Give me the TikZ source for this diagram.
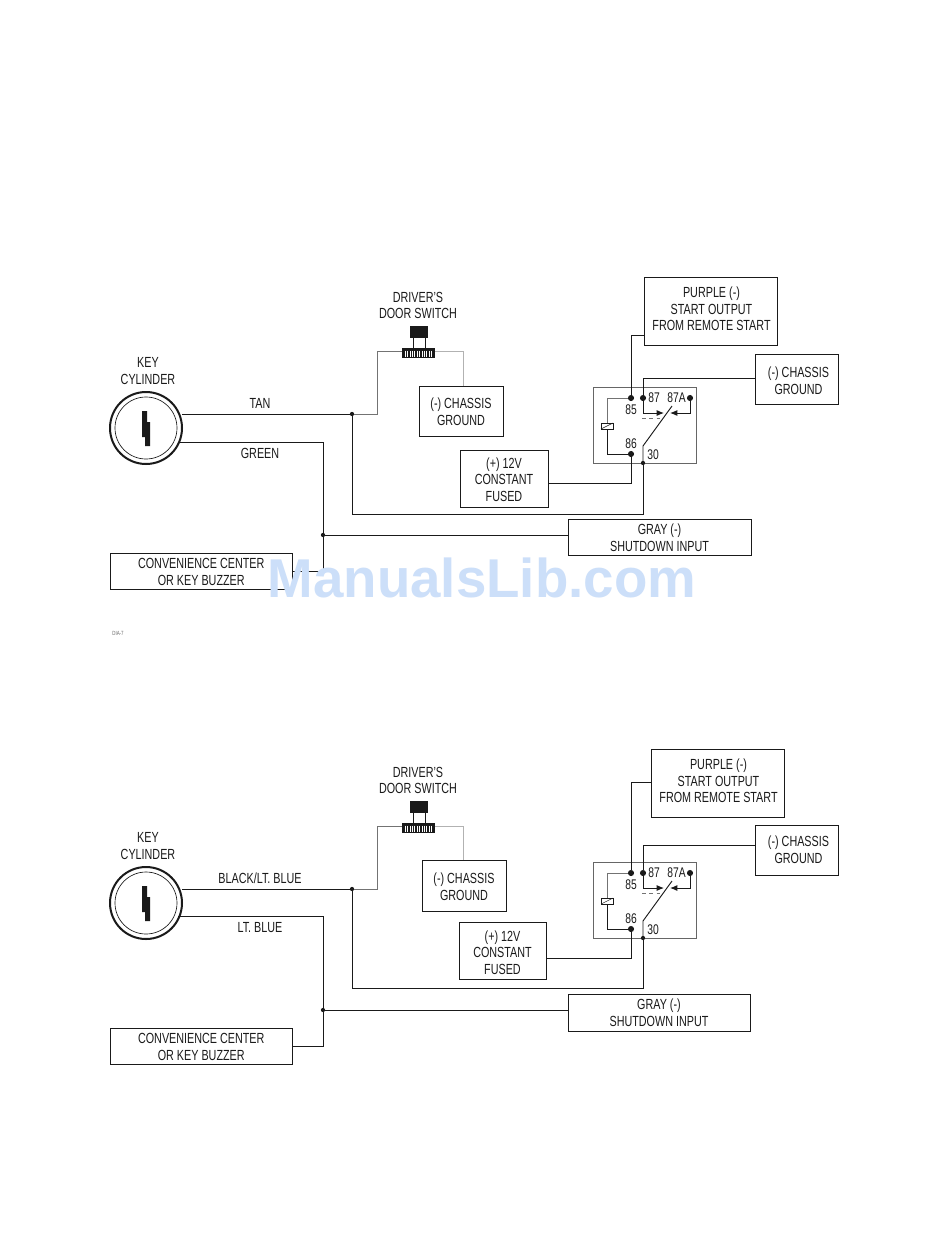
\documentclass[tikz,border=0pt]{standalone}
\usepackage{fontspec}
\usetikzlibrary{arrows.meta}
\setmainfont[FakeStretch=0.735]{Liberation Sans}
\newfontfamily\wmfont{Liberation Sans}
\definecolor{ink}{HTML}{1A1A1A}
\definecolor{wmblue}{HTML}{CCDFF9}
\tikzset{
  x=0.75pt,y=-0.75pt,
  every node/.style={inner sep=0pt,outer sep=0pt,text=ink},
  wire/.style={draw=ink,line width=0.7pt},
  softwire/.style={draw=black!55,line width=0.6pt},
  palewire/.style={draw=black!30,line width=0.7pt},
  lab/.style={font=\fontsize{11}{12.5}\selectfont,align=center},
  nlab/.style={font=\fontsize{10.5}{12}\selectfont},
  frame/.style={draw=ink,line width=0.7pt,anchor=north west},
  dot/.style={circle,fill=ink,minimum size=#1,draw=none},
  dot/.default=3.2pt,
  relaydot/.style={dot=4.6pt},
  tip/.style={-{Latex[length=5.5pt,width=4.5pt]}},
}
% name, x, y, w, h, text dx, text dy, text
\newcommand{\pbox}[8]{%
  \node[frame,minimum width=#4*0.75pt,minimum height=#5*0.75pt] (#1) at (#2,#3) {};
  \node[lab] (#1-text) at ([shift={(#6,#7)}]#1.center) {#8};
}
\newcommand{\commonparts}[2]{%
  % key cylinder
  \node[circle,draw=ink,line width=1.5pt,minimum size=54pt] (keyouter) at (146,428) {};
  \node[circle,draw=ink,line width=0.5pt,minimum size=46.5pt] (keyinner) at (146,428) {};
  \fill[ink] (142,411) -- (147,411) -- (147,422) -- (150,422) -- (150,446) -- (145,446) -- (145,437) -- (142,437) -- cycle;
  \node[lab] (keylab) at (148,371) {KEY\\CYLINDER};
  % door switch
  \node[lab] (swlab) at (418,305.5) {DRIVER'S\\DOOR SWITCH};
  \node[fill=ink,minimum width=13.5pt,minimum height=9pt] (swhead) at (419,332) {};
  \node[fill=ink,minimum width=24.75pt,minimum height=7.5pt] (swbody) at (418.5,353) {};
  \foreach \i in {0,...,11}{\draw[white,line width=0.45pt] (405+\i*2.4,350.5) -- (405+\i*2.4,356.5);}
  \draw[ink,line width=0.7pt] (413,338) -- (413,348) (425,338) -- (425,348);
  % relay
  \node[draw=black!60,line width=0.6pt,minimum width=77.25pt,minimum height=57pt,anchor=north west] (relay) at (593,387) {};
  \node[relaydot] (d85) at (631,398) {};
  \node[relaydot] (d87) at (643,398) {};
  \node[relaydot] (d87a) at (690,398) {};
  \node[relaydot] (d86) at (631,454) {};
  \node[dot] (d30) at (643,463) {};
  \node[nlab] (l85) at (631,410) {85};
  \node[nlab] (l87) at (654,398) {87};
  \node[nlab] (l87a) at (676.5,398) {87A};
  \node[nlab] (l86) at (631,444) {86};
  \node[nlab] (l30) at (653,455) {30};
  \node[draw=ink,line width=0.5pt,minimum width=9pt,minimum height=4.5pt] (coil) at (607,426) {};
  \draw[ink,line width=0.35pt] (coil.south west) -- (coil.north east);
  \draw[softwire] (d85) -| (coil.north);
  \draw[wire] (coil.south) |- (d86);
  \coordinate (armlow) at (643,446);
  \coordinate (armtop) at (672,406);
  \draw[wire] (d30) -- (armlow) -- (armtop);
  \coordinate (no) at (664,413);
  \coordinate (nc) at (670,413);
  \draw[wire,tip] (d87) |- (no);
  \draw[wire,tip] (d87a) |- (nc);
  \coordinate (dasha) at (642,418);
  \coordinate (dashb) at (660,418);
  \draw[softwire,dash pattern=on 3pt off 2.5pt] (dasha) -- (dashb);
  % wire labels
  \node[lab] (upperlab) at #1;
  \node[lab] (lowerlab) at #2;
}
\begin{document}
\begin{tikzpicture}
\useasboundingbox (0,0) rectangle (950,1260);
\fill[white] (0,0) rectangle (950,1260);

% ---------- upper diagram
\begin{scope}[name prefix=a-]
\commonparts{(260,403) {TAN}}{(260,453) {GREEN}}
\pbox{chassisA}{419}{386}{84}{50}{0}{1}{(-) CHASSIS\\GROUND}
\pbox{purple}{644}{277}{133}{68}{1}{-2}{PURPLE (-)\\START OUTPUT\\FROM REMOTE START}
\pbox{chassisB}{755}{354}{83}{50}{2}{2}{(-) CHASSIS\\GROUND}
\pbox{fused}{460}{450}{88}{57}{0}{1}{(+) 12V\\CONSTANT\\FUSED}
\pbox{shut}{568}{519}{183}{36}{0}{1}{GRAY (-)\\SHUTDOWN INPUT}
\pbox{conv}{110}{553}{182.5}{36}{0}{1}{CONVENIENCE CENTER\\OR KEY BUZZER}
\node[dot] (j1) at (352,414) {};
\node[dot] (j2) at (323,535) {};
\coordinate (keyT) at (182,414);
\coordinate (keyG) at (178,442);
\coordinate (swL) at (377,351);
\coordinate (swR) at (463,351);
\coordinate (greenC) at (323,442);
\coordinate (greenD) at (323,571);
\coordinate (base) at (352,514);
\coordinate (pup) at (631,335);
\coordinate (cup) at (643,378);
\coordinate (fusedY) at (548,483);
\draw[wire] (keyT) -- (j1);
\draw[softwire] (j1) -| (swL) -- (a-swbody.west |- swL);
\draw[palewire] (a-swbody.east |- swR) -- (swR) -- (swR |- chassisA.north);
\draw[wire] (j1) -- (base) -| (d30);
\draw[wire] (keyG) -- (greenC) -- (greenD) -- (conv.east |- greenD);
\draw[wire] (j2) -- (shut.west |- j2);
\draw[wire] (d85) -- (pup) -- (purple.west |- pup);
\draw[wire] (d87) -- (cup) -- (chassisB.west |- cup);
\draw[wire] (d86) |- (fused.east |- fusedY);
\end{scope}

% ---------- lower diagram
\begin{scope}[shift={(0,475)},name prefix=b-]
\commonparts{(260,403) {BLACK/LT. BLUE}}{(260,453) {LT. BLUE}}
\pbox{chassisA}{422}{385}{84}{51}{0}{1}{(-) CHASSIS\\GROUND}
\pbox{purple}{651}{274}{133}{68}{1}{-2}{PURPLE (-)\\START OUTPUT\\FROM REMOTE START}
\pbox{chassisB}{755}{350}{83}{50}{2}{0}{(-) CHASSIS\\GROUND}
\pbox{fused}{459}{447}{87}{57}{0}{2}{(+) 12V\\CONSTANT\\FUSED}
\pbox{shut}{568}{519}{182}{37}{0}{0.5}{GRAY (-)\\SHUTDOWN INPUT}
\pbox{conv}{110}{553}{182.5}{36}{0}{1}{CONVENIENCE CENTER\\OR KEY BUZZER}
\node[dot] (j1) at (352,414) {};
\node[dot] (j2) at (323,535) {};
\coordinate (keyT) at (182,414);
\coordinate (keyG) at (178,441);
\coordinate (swL) at (377,351);
\coordinate (swR) at (463,351);
\coordinate (greenC) at (323,441);
\coordinate (greenD) at (323,571);
\coordinate (base) at (352,513);
\coordinate (pup) at (631,307);
\coordinate (cup) at (643,370);
\coordinate (fusedY) at (548,483);
\draw[wire] (keyT) -- (j1);
\draw[softwire] (j1) -| (swL) -- (b-swbody.west |- swL);
\draw[palewire] (b-swbody.east |- swR) -- (swR) -- (swR |- chassisA.north);
\draw[wire] (j1) -- (base) -| (d30);
\draw[wire] (keyG) -- (greenC) -- (greenD) -- (conv.east |- greenD);
\draw[wire] (j2) -- (shut.west |- j2);
\draw[wire] (d85) -- (pup) -- (purple.west |- pup);
\draw[wire] (d87) -- (cup) -- (chassisB.west |- cup);
\draw[wire] (d86) |- (fused.east |- fusedY);
\end{scope}

\node[font=\fontsize{4.5}{5}\selectfont,text=black!60] (dia) at (118,633) {DIA-7};
\node[font=\wmfont\bfseries\fontsize{41}{41}\selectfont,text=wmblue] (wm) at (482,578) {ManualsLib.com};
\end{tikzpicture}
\end{document}
